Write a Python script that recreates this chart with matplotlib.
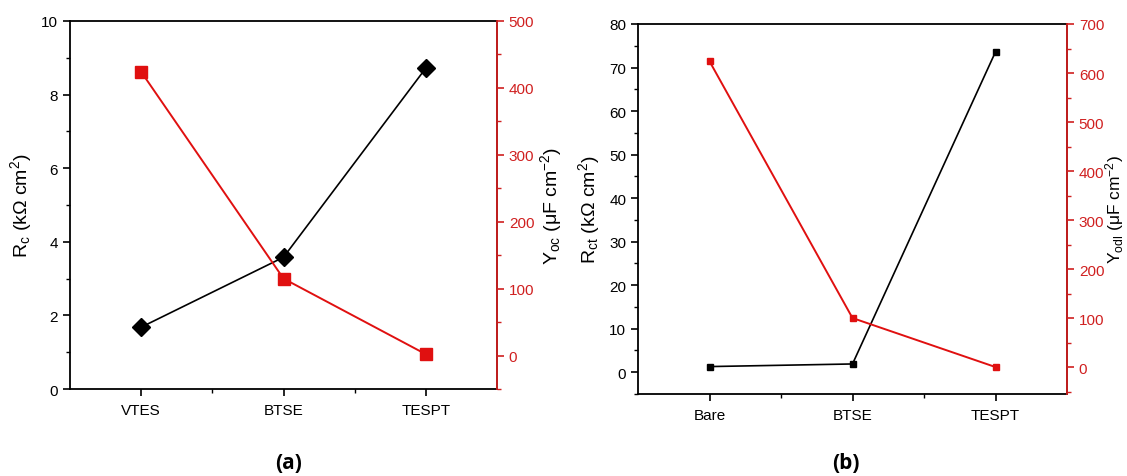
import matplotlib
matplotlib.use("Agg")
from matplotlib import pyplot as plt
from matplotlib.ticker import MultipleLocator, FixedLocator

plt.rcParams['font.family'] = ['Liberation Sans', 'DejaVu Sans']
plt.rcParams['mathtext.fontset'] = 'custom'
plt.rcParams['mathtext.rm'] = 'Liberation Sans'
plt.rcParams['mathtext.it'] = 'Liberation Sans'

RED = '#e01010'
AXRED = '#d02020'

# panel (a)
cats_a = ["VTES", "BTSE", "TESPT"]
rc_a = [1.68, 3.58, 8.72]
yoc_a = [424, 115, 2]

# panel (b)
cats_b = ["Bare", "BTSE", "TESPT"]
rct_b = [1.3, 1.9, 73.6]
yodl_b = [624, 100, 0]

W, H = 1127, 477
fig = plt.figure(figsize=(W / 100, H / 100), dpi=100)


def panel(rect, cats, left_vals, right_vals, left_lim, left_step, right_lim,
          right_step, left_label, right_label, bmarker, bsize, rsize, tag,
          rlabel_px, rlabel_fs, tag_px):
    ax = fig.add_axes(rect)
    x = list(range(1, len(cats) + 1))
    ax.plot(x, left_vals, color='black', lw=1.2, marker=bmarker, ms=bsize,
            zorder=3)
    ax.set_xlim(0.5, len(cats) + 0.5)
    ax.set_ylim(*left_lim)
    ax.set_xticks(x)
    ax.set_xticklabels(cats)
    ax.xaxis.set_minor_locator(FixedLocator([1.5, 2.5]))
    ax.yaxis.set_major_locator(MultipleLocator(left_step))
    ax.yaxis.set_minor_locator(MultipleLocator(left_step / 2))
    ax.tick_params(axis='both', which='major', direction='out', length=5,
                   width=1.2, labelsize=11)
    ax.tick_params(axis='both', which='minor', direction='out', length=3,
                   width=1.0)
    ax.tick_params(axis='x', pad=5)
    for s in ax.spines.values():
        s.set_linewidth(1.3)
    ax.set_ylabel(left_label, fontsize=14, labelpad=5)

    ax2 = ax.twinx()
    ax2.plot(x, right_vals, color=RED, lw=1.4, marker='s', ms=rsize,
             zorder=3)
    ax2.set_ylim(*right_lim)
    ax2.yaxis.set_major_locator(MultipleLocator(right_step))
    ax2.yaxis.set_minor_locator(MultipleLocator(right_step / 2))
    ax2.tick_params(axis='y', which='major', direction='out', length=5,
                    width=1.2, labelsize=11, colors=AXRED)
    ax2.tick_params(axis='y', which='minor', direction='out', length=3,
                    width=1.0, colors=AXRED)
    ax2.spines['right'].set_color(AXRED)
    ax2.spines['right'].set_linewidth(1.3)
    for k in ('left', 'top', 'bottom'):
        ax2.spines[k].set_visible(False)

    # right axis title and panel tag placed in figure pixels
    mid = rect[1] + rect[3] / 2
    fig.text(rlabel_px / W, mid, right_label, rotation=90, fontsize=rlabel_fs,
             ha='center', va='center')
    fig.text(tag_px[0] / W, 1 - tag_px[1] / H, tag, ha='center', va='center',
             fontsize=15, fontweight='bold', family=['Open Sans', 'DejaVu Sans'])
    return ax, ax2


panel([70 / W, 1 - 390 / H, 427 / W, 368 / H], cats_a, rc_a, yoc_a,
      (0, 10), 2, (-50, 500), 100,
      r'R$_{c}$ (k$\Omega$ cm$^{2}$)', r'Y$_{oc}$ ($\mu$F cm$^{-2}$)',
      'D', 9, 8, '(a)', 551, 14, (289, 464))
panel([638 / W, 1 - 395 / H, 429 / W, 370 / H], cats_b, rct_b, yodl_b,
      (-5, 80), 10, (-55, 700), 100,
      r'R$_{ct}$ (k$\Omega$ cm$^{2}$)', r'Y$_{odl}$ ($\mu$F cm$^{-2}$)',
      's', 5, 5, '(b)', 1115, 12.5, (846, 464))

fig.savefig("out.png", dpi=100)
